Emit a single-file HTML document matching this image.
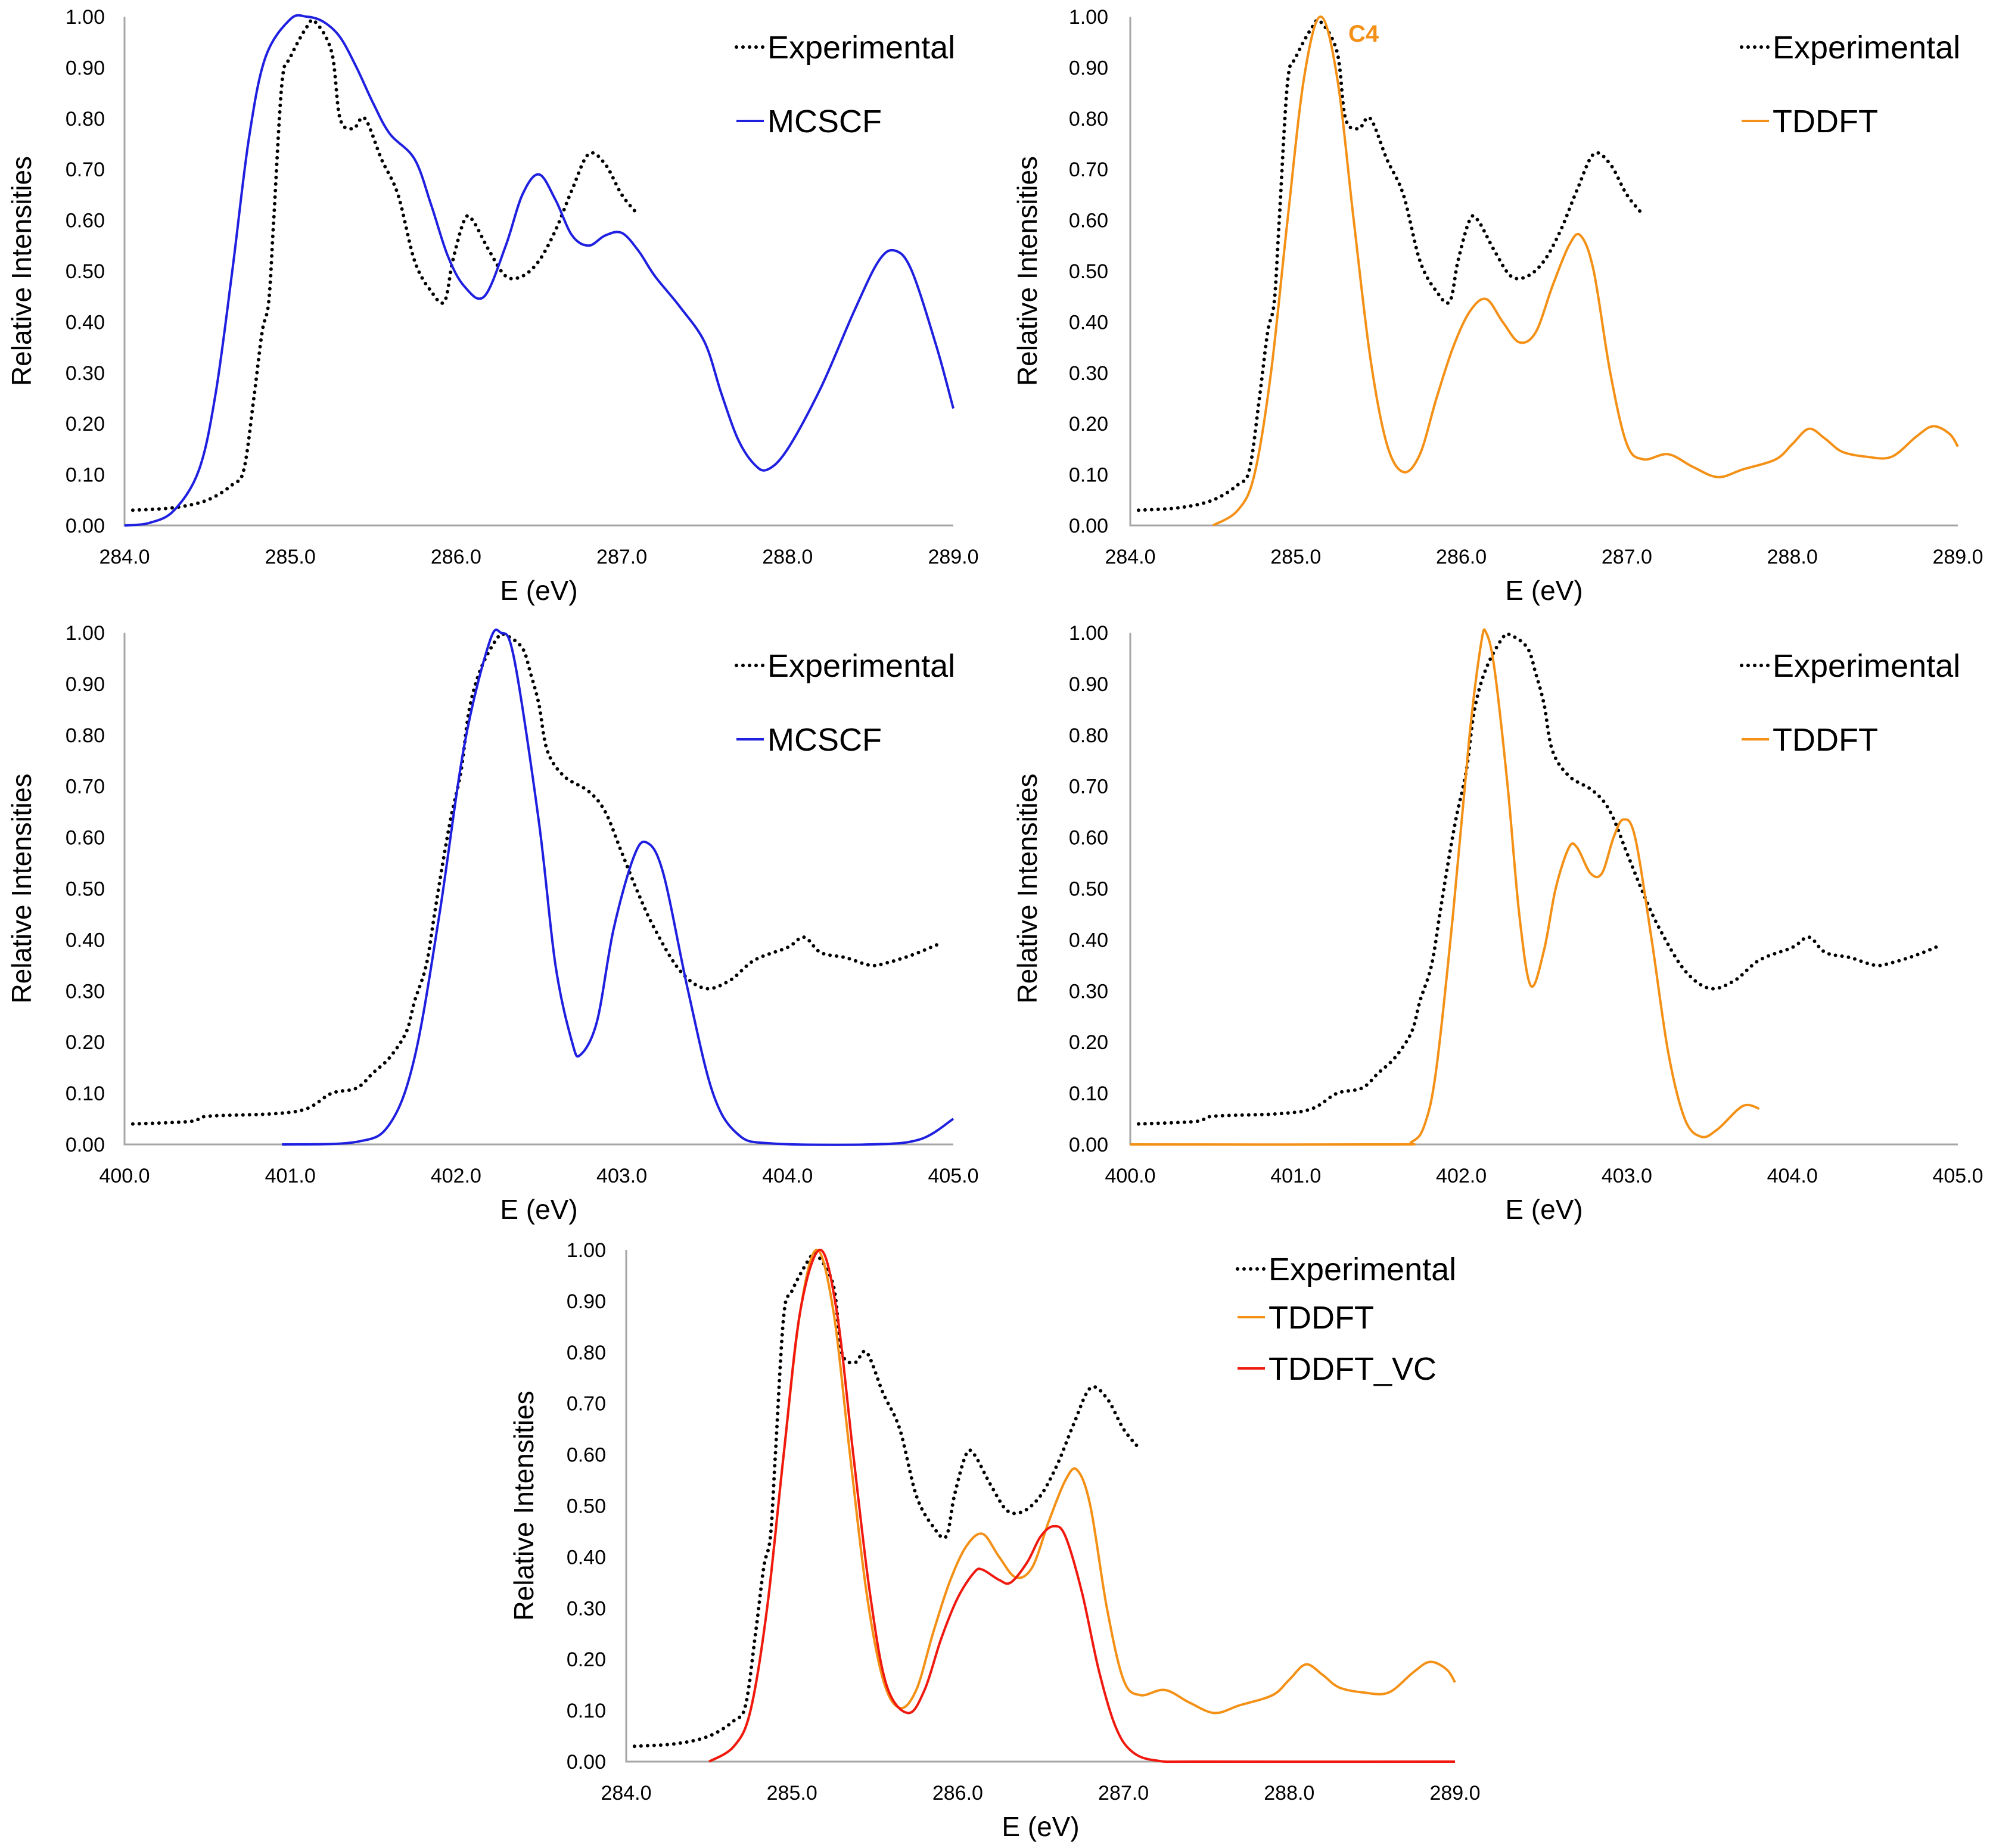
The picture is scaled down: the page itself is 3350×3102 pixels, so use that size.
<!DOCTYPE html>
<html><head><meta charset="utf-8"><style>
html,body{margin:0;padding:0;background:#fff}
svg{display:block;font-family:"Liberation Sans",sans-serif}
</style></head><body>
<svg id="fig" width="3350" height="3102" viewBox="0 0 3350 3102" xmlns="http://www.w3.org/2000/svg"></svg>
<script>
const yTicks = [0,0.1,0.2,0.3,0.4,0.5,0.6,0.7,0.8,0.9,1.0];
const cTicks = [284,285,286,287,288,289];
const nTicks = [400,401,402,403,404,405];
const expC_x = [284.05,284.3,284.5,284.65,284.72,284.78,284.83,284.87,284.9,284.95,285.0,285.1,285.15,285.25,285.3,285.38,285.45,285.55,285.65,285.75,285.85,285.93,285.98,286.05,286.1,286.2,286.3,286.4,286.5,286.6,286.7,286.8,286.9,287.0,287.1];
const expC_y = [0.03,0.035,0.05,0.08,0.11,0.25,0.38,0.44,0.6,0.87,0.92,0.98,0.99,0.93,0.8,0.78,0.8,0.72,0.65,0.52,0.46,0.44,0.52,0.6,0.6,0.54,0.49,0.49,0.52,0.58,0.66,0.73,0.71,0.65,0.61];
const mcC_x = [284.0,284.15,284.3,284.45,284.55,284.65,284.75,284.85,285.0,285.1,285.2,285.3,285.4,285.5,285.6,285.75,285.85,285.95,286.05,286.17,286.3,286.4,286.5,286.6,286.7,286.8,286.9,287.0,287.1,287.2,287.35,287.5,287.6,287.7,287.8,287.88,288.0,288.2,288.4,288.55,288.65,288.75,288.9,289.0];
const mcC_y = [0,0.005,0.03,0.11,0.26,0.5,0.76,0.92,0.995,1.0,0.99,0.96,0.9,0.83,0.77,0.72,0.63,0.53,0.47,0.45,0.55,0.65,0.69,0.64,0.57,0.55,0.57,0.575,0.54,0.49,0.43,0.36,0.26,0.17,0.12,0.11,0.15,0.27,0.42,0.52,0.54,0.5,0.35,0.23];
const tdC_x = [284.5,284.65,284.75,284.85,284.95,285.05,285.15,285.25,285.35,285.45,285.55,285.65,285.75,285.85,285.95,286.05,286.15,286.25,286.35,286.45,286.55,286.65,286.72,286.8,286.9,287.0,287.1,287.25,287.4,287.55,287.7,287.9,288.0,288.1,288.2,288.3,288.45,288.6,288.75,288.85,288.95,289.0];
const tdC_y = [0,0.03,0.1,0.3,0.6,0.88,1.0,0.88,0.6,0.33,0.16,0.105,0.14,0.25,0.35,0.42,0.445,0.4,0.36,0.38,0.47,0.55,0.57,0.5,0.3,0.16,0.13,0.14,0.115,0.095,0.11,0.13,0.16,0.19,0.17,0.145,0.135,0.135,0.175,0.195,0.18,0.155];
const vcC_x = [284.5,284.65,284.75,284.85,284.95,285.05,285.17,285.27,285.37,285.47,285.57,285.7,285.8,285.9,286.0,286.1,286.15,286.25,286.32,286.42,286.5,286.58,286.65,286.75,286.85,286.95,287.05,287.2,287.5,289.0];
const vcC_y = [0,0.03,0.1,0.3,0.6,0.88,1.0,0.88,0.6,0.33,0.15,0.095,0.14,0.24,0.32,0.37,0.375,0.355,0.35,0.39,0.44,0.46,0.44,0.33,0.18,0.07,0.02,0.002,0,0];
const expN_x = [400.05,400.4,400.5,400.9,401.1,401.25,401.4,401.5,401.6,401.7,401.75,401.82,401.87,401.92,401.97,402.03,402.08,402.15,402.25,402.3,402.4,402.45,402.5,402.55,402.65,402.8,402.9,403.0,403.1,403.2,403.35,403.5,403.65,403.8,404.0,404.1,404.2,404.35,404.5,404.6,404.75,404.9];
const expN_y = [0.04,0.045,0.055,0.06,0.07,0.1,0.11,0.14,0.17,0.22,0.28,0.35,0.45,0.55,0.64,0.73,0.85,0.93,0.99,0.995,0.97,0.92,0.86,0.77,0.72,0.69,0.65,0.57,0.49,0.42,0.34,0.305,0.32,0.36,0.385,0.405,0.375,0.365,0.35,0.355,0.37,0.39];
const mcN_x = [400.95,401.4,401.6,401.75,401.9,402.05,402.2,402.27,402.35,402.5,402.6,402.7,402.75,402.85,402.95,403.07,403.15,403.25,403.4,403.55,403.7,403.9,404.5,404.8,405.0];
const mcN_y = [0,0.005,0.04,0.17,0.45,0.78,0.98,1.0,0.95,0.63,0.35,0.2,0.175,0.24,0.42,0.56,0.59,0.53,0.3,0.1,0.02,0.002,0,0.01,0.05];
const tdN_x = [400.0,401.55,401.7,401.78,401.85,401.95,402.05,402.12,402.15,402.2,402.28,402.35,402.42,402.5,402.57,402.65,402.7,402.78,402.85,402.92,402.98,403.05,403.15,403.25,403.35,403.45,403.55,403.7,403.8];
const tdN_y = [0,0,0.005,0.04,0.15,0.45,0.8,0.98,1.0,0.93,0.7,0.45,0.31,0.38,0.5,0.58,0.58,0.53,0.53,0.6,0.635,0.6,0.4,0.18,0.05,0.015,0.03,0.075,0.07];

const NS="http://www.w3.org/2000/svg";
const svg=document.getElementById('fig');
function mk(tag,attrs,parent){const e=document.createElementNS(NS,tag);for(const k in attrs)e.setAttribute(k,attrs[k]);(parent||svg).appendChild(e);return e;}
function smooth(pts){let d='M'+pts[0][0]+','+pts[0][1];for(let i=0;i<pts.length-1;i++){const p0=pts[Math.max(0,i-1)],p1=pts[i],p2=pts[i+1],p3=pts[Math.min(pts.length-1,i+2)];const c1x=p1[0]+(p2[0]-p0[0])/6,c1y=p1[1]+(p2[1]-p0[1])/6,c2x=p2[0]-(p3[0]-p1[0])/6,c2y=p2[1]-(p3[1]-p1[1])/6;d+=' C'+c1x+','+c1y+' '+c2x+','+c2y+' '+p2[0]+','+p2[1];}return d;}

function panel(name,x0,x1,y0,y1,xmin,xmax,xt,series,legend,ylabX,tickX){
  const g=mk('g',{});
  
  
  const sx=v=>x0+(v-xmin)/(xmax-xmin)*(x1-x0);
  const sy=v=>y1-v*(y1-y0);
  const ax=mk('path',{d:`M${x0},${y0} V${y1} H${x1}`,stroke:'#a6a6a6','stroke-width':3,fill:'none'},g);
  
  
  yTicks.forEach(t=>{const e=mk('text',{x:tickX,y:sy(t)+12,'text-anchor':'end','font-size':34,fill:'#000'},g);e.textContent=t.toFixed(2);
    
    });
  xt.forEach(t=>{const e=mk('text',{x:sx(t),y:y1+64,'text-anchor':'middle','font-size':34,fill:'#000'},g);e.textContent=t.toFixed(1);
    
    });
  const xl=mk('text',{x:(x0+x1)/2,y:y1+125,'text-anchor':'middle','font-size':46},g);xl.textContent='E (eV)';
  
  
  const yl=mk('text',{x:0,y:0,'text-anchor':'middle','font-size':46,transform:`translate(${ylabX},${(y0+y1)/2}) rotate(-90)`},g);yl.textContent='Relative Intensities';
  
  
  series.forEach(s=>{
    const pts=s.x.map((v,i)=>[sx(v),sy(s.y[i])]);
    const p=mk('path',{d:smooth(pts),fill:'none',stroke:s.c,'stroke-width':s.dot?6:4,'stroke-dasharray':s.dot?'0 11':'none','stroke-linecap':s.dot?'round':'butt','stroke-linejoin':'round'},g);
    
    
  });
  legend.items.forEach((it,i)=>{
    const y=legend.ys[i];
    const l=mk('line',{x1:legend.lx,x2:legend.lx+46,y1:y,y2:y,stroke:it.c,'stroke-width':it.dot?6:4,'stroke-dasharray':it.dot?'0 11':'none','stroke-linecap':it.dot?'round':'butt'},g);
    
    
    const t=mk('text',{x:legend.lx+52,y:y+19,'font-size':54},g);t.textContent=it.t;
    
    
  });
  return g;
}
const BLUE='#1f1fe0',ORG='#f39015',RED='#f0190f';
const E={x:expC_x,y:expC_y,c:'#000',dot:true,n:'experimental-line'};
const EN={x:expN_x,y:expN_y,c:'#000',dot:true,n:'experimental-line'};
panel('panel-c-mcscf',209,1600,28,882,284,289,cTicks,[E,{x:mcC_x,y:mcC_y,c:BLUE,n:'mcscf-line'}],
  {lx:1236,ys:[79,203],items:[{t:'Experimental',c:'#000',dot:true},{t:'MCSCF',c:BLUE}]},52,176);
panel('panel-c-tddft',1897,3286,28,882,284,289,cTicks,[E,{x:tdC_x,y:tdC_y,c:ORG,n:'tddft-line'}],
  {lx:2923,ys:[79,203],items:[{t:'Experimental',c:'#000',dot:true},{t:'TDDFT',c:ORG}]},1740,1860);
panel('panel-n-mcscf',209,1600,1062,1921,400,405,nTicks,[EN,{x:mcN_x,y:mcN_y,c:BLUE,n:'mcscf-line'}],
  {lx:1236,ys:[1117,1241],items:[{t:'Experimental',c:'#000',dot:true},{t:'MCSCF',c:BLUE}]},52,176);
panel('panel-n-tddft',1897,3286,1062,1921,400,405,nTicks,[EN,{x:tdN_x,y:tdN_y,c:ORG,n:'tddft-line'}],
  {lx:2923,ys:[1117,1241],items:[{t:'Experimental',c:'#000',dot:true},{t:'TDDFT',c:ORG}]},1740,1860);
panel('panel-c-vc',1051,2442,2098,2957,284,289,cTicks,[E,{x:tdC_x,y:tdC_y,c:ORG,n:'tddft-line'},{x:vcC_x,y:vcC_y,c:RED,n:'tddft-vc-line'}],
  {lx:2077,ys:[2130,2211,2297],items:[{t:'Experimental',c:'#000',dot:true},{t:'TDDFT',c:ORG},{t:'TDDFT_VC',c:RED}]},895,1017);
const c4=mk('text',{x:2263,y:70,'font-size':40,'font-weight':'bold',fill:ORG});c4.textContent='C4';


</script>
</body></html>
